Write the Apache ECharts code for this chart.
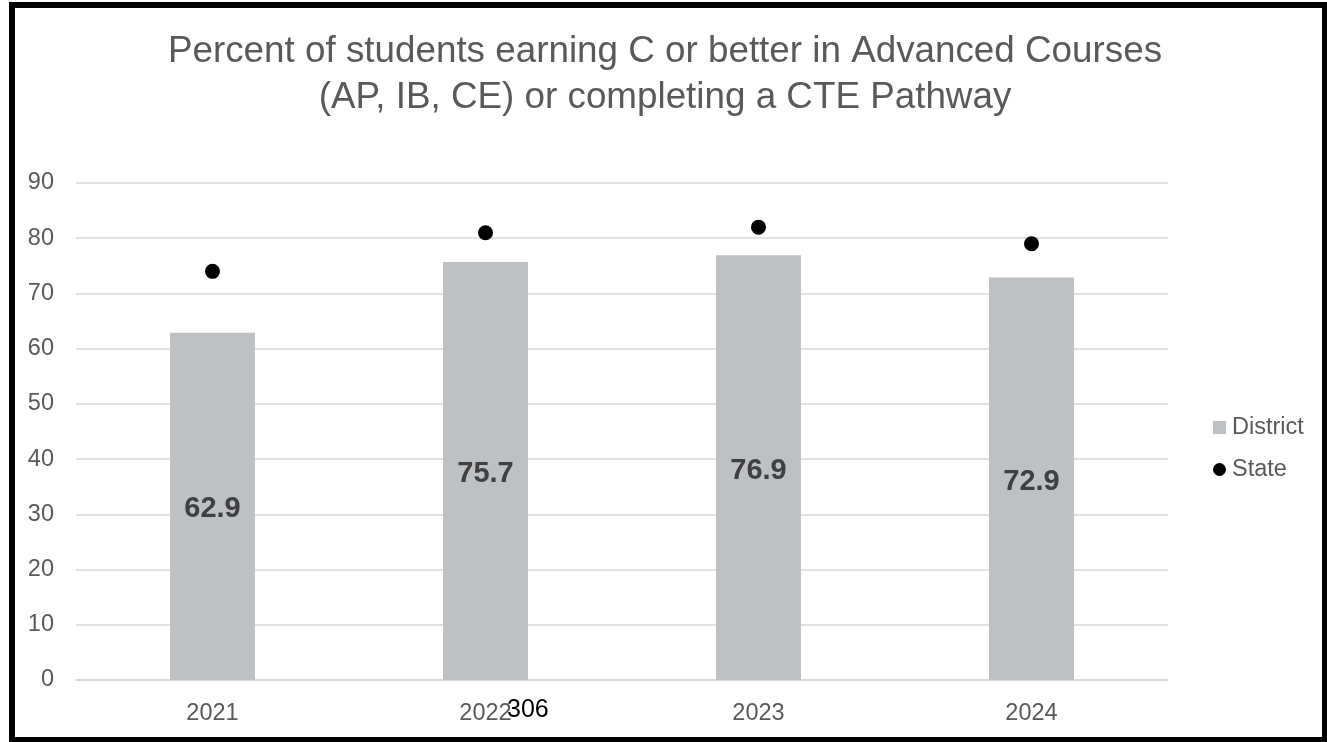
<!DOCTYPE html>
<html>
<head>
<meta charset="utf-8">
<script src="https://cdn.jsdelivr.net/npm/echarts@6/dist/echarts.min.js"></script>
<style>
  html, body { margin: 0; padding: 0; background: #ffffff; }
  #chart { width: 1327px; height: 742px; }
</style>
</head>
<body>
<div id="chart"></div>
<script>
// School years on the category axis
const years = ['2021', '2022', '2023', '2024'];
// District percentages (bars) and state percentages (dots)
const districtValues = [62.9, 75.7, 76.9, 72.9];
const stateValues = [74, 81, 82, 79];
// Value-axis range
const yMin = 0;
const yMax = 90;
const yStep = 10;

const titleText = 'Percent of students earning C or better in Advanced Courses\n(AP, IB, CE) or completing a CTE Pathway';
const noteText = '306';

const FONT = '"Liberation Sans", Arial, Helvetica, sans-serif';
const GREY_TEXT = '#595959';

const chart = echarts.init(document.getElementById('chart'), null, { renderer: 'canvas' });

chart.setOption({
  backgroundColor: '#ffffff',
  animation: false,
  title: {
    text: titleText,
    top: 24,
    left: 660,
    textAlign: 'center',
    textStyle: {
      fontFamily: FONT,
      fontSize: 36.8,
      fontWeight: 'normal',
      color: GREY_TEXT,
      lineHeight: 46
    }
  },
  legend: {
    orient: 'vertical',
    left: 1208,
    top: 410,
    itemWidth: 13,
    itemHeight: 13,
    itemGap: 17,
    textStyle: {
      fontFamily: FONT,
      fontSize: 23.5,
      color: GREY_TEXT,
      lineHeight: 25,
      padding: [0, 0, 0, 1]
    },
    data: [
      { name: 'District', icon: 'rect' },
      { name: 'State', icon: 'circle' }
    ]
  },
  grid: {
    left: 76,
    right: 159,
    top: 183,
    bottom: 62,
    containLabel: false
  },
  xAxis: {
    type: 'category',
    data: years,
    axisLine: { show: true, lineStyle: { color: '#d9d9d9', width: 1.5 } },
    axisTick: { show: false },
    axisLabel: {
      fontFamily: FONT,
      fontSize: 23.5,
      color: GREY_TEXT,
      margin: 22
    }
  },
  yAxis: {
    type: 'value',
    min: yMin,
    max: yMax,
    interval: yStep,
    axisLine: { show: false },
    axisTick: { show: false },
    splitLine: { lineStyle: { color: '#d9d9d9', width: 1.5 } },
    axisLabel: {
      fontFamily: FONT,
      fontSize: 23.5,
      color: GREY_TEXT,
      margin: 22
    }
  },
  series: [
    {
      name: 'District',
      type: 'bar',
      data: districtValues,
      barWidth: 85,
      itemStyle: { color: '#bdc1c4' },
      label: {
        show: true,
        position: 'inside',
        offset: [0, 3],
        fontFamily: FONT,
        fontSize: 29,
        fontWeight: 'bold',
        color: '#404040',
        formatter: (p) => p.value.toFixed(1)
      },
      z: 2
    },
    {
      name: 'State',
      type: 'scatter',
      data: stateValues,
      symbol: 'circle',
      symbolSize: 15,
      itemStyle: { color: '#000000', opacity: 1 },
      z: 3
    }
  ],
  graphic: [
    {
      type: 'rect',
      shape: { x: 12, y: 5, width: 1313, height: 735 },
      style: { fill: 'none', stroke: '#000000', lineWidth: 6 },
      silent: true,
      z: 100
    },
    {
      type: 'text',
      left: 507,
      top: 698,
      style: {
        text: noteText,
        fontFamily: FONT,
        fontSize: 25,
        fill: '#000000'
      },
      z: 100
    }
  ]
});
</script>
</body>
</html>
